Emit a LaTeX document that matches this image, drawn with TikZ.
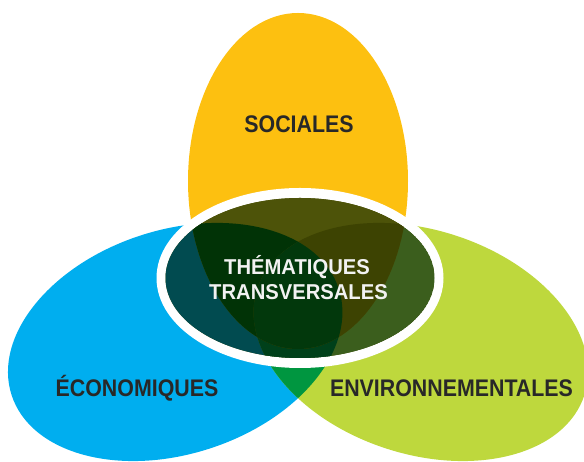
\documentclass[tikz,border=0pt]{standalone}
\usepackage{fontspec}
\newfontfamily\lblfont[FakeStretch=0.89]{Liberation Sans}
\newfontfamily\ctrfont[FakeStretch=0.94]{Liberation Sans}
\definecolor{petYellow}{RGB}{253,192,16}
\definecolor{petBlue}{RGB}{0,174,239}
\definecolor{petGreen}{RGB}{190,216,61}
\definecolor{petOverlap}{RGB}{0,150,64}
\definecolor{cOlive}{RGB}{77,83,9}
\definecolor{cTeal}{RGB}{1,75,80}
\definecolor{cMidGreen}{RGB}{59,94,29}
\definecolor{cVeryDark}{RGB}{1,51,6}
\definecolor{cDarkOlive}{RGB}{61,67,2}
\definecolor{cAllThree}{RGB}{2,56,12}
\definecolor{cBGDark}{RGB}{0,64,26}
\definecolor{labelGray}{RGB}{40,40,40}
\definecolor{ctrText}{RGB}{242,242,242}
\tikzset{
  yellowgeo/.style={shift={(298,281)}},
  bluegeo/.style={shift={(175.2,120)},rotate=18},
  greengeo/.style={shift={(420.8,120)},rotate=-18},
  ctrgeo/.style={shift={(300,184)}},
  lbl/.style={font=\lblfont\bfseries\fontsize{24}{24}\selectfont, text=labelGray, inner sep=0pt, anchor=base},
  ctrlbl/.style={font=\ctrfont\bfseries\fontsize{21.5}{21.5}\selectfont, text=ctrText, inner sep=0pt, anchor=base}
}
\begin{document}
\begin{tikzpicture}[x=1pt,y=1pt]
\useasboundingbox (0,0) rectangle (584,462);
\clip (0,0) rectangle (584,462);
% petals
\fill[petYellow, yellowgeo] (0,0) ellipse [x radius=110, y radius=168];
\fill[petBlue, bluegeo] (0,0) ellipse [x radius=172, y radius=112];
\fill[petGreen, greengeo] (0,0) ellipse [x radius=172, y radius=112];
\begin{scope}
  \clip[bluegeo] (0,0) ellipse [x radius=172, y radius=112];
  \fill[petOverlap, greengeo] (0,0) ellipse [x radius=172, y radius=112];
\end{scope}
% white ring
\fill[white, ctrgeo] (0,0) ellipse [x radius=143.5, y radius=90];
% darkened centre
\begin{scope}
  \clip[ctrgeo] (0,0) ellipse [x radius=134.5, y radius=80];
  \fill[cOlive, ctrgeo] (0,0) ellipse [x radius=134.5, y radius=80];
  \fill[cTeal, bluegeo] (0,0) ellipse [x radius=172, y radius=112];
  \fill[cMidGreen, greengeo] (0,0) ellipse [x radius=172, y radius=112];
  \begin{scope}
    \clip[bluegeo] (0,0) ellipse [x radius=172, y radius=112];
    \fill[cBGDark, greengeo] (0,0) ellipse [x radius=172, y radius=112];
  \end{scope}
  \begin{scope}
    \clip[yellowgeo] (0,0) ellipse [x radius=110, y radius=168];
    \fill[cOlive, yellowgeo] (0,0) ellipse [x radius=110, y radius=168];
    \fill[cVeryDark, bluegeo] (0,0) ellipse [x radius=172, y radius=112];
    \fill[cDarkOlive, greengeo] (0,0) ellipse [x radius=172, y radius=112];
    \begin{scope}
      \clip[bluegeo] (0,0) ellipse [x radius=172, y radius=112];
      \fill[cAllThree, greengeo] (0,0) ellipse [x radius=172, y radius=112];
    \end{scope}
  \end{scope}
\end{scope}
% labels
\node[lbl] (soc) at (299,329) {SOCIALES};
\node[lbl] (eco) at (137,65) {ÉCONOMIQUES};
\node[lbl] (env) at (451.5,65) {ENVIRONNEMENTALES};
\node[ctrlbl] (them) at (297,187) {THÉMATIQUES};
\node[ctrlbl] (trans) at (298.5,162) {TRANSVERSALES};
\end{tikzpicture}
\end{document}
